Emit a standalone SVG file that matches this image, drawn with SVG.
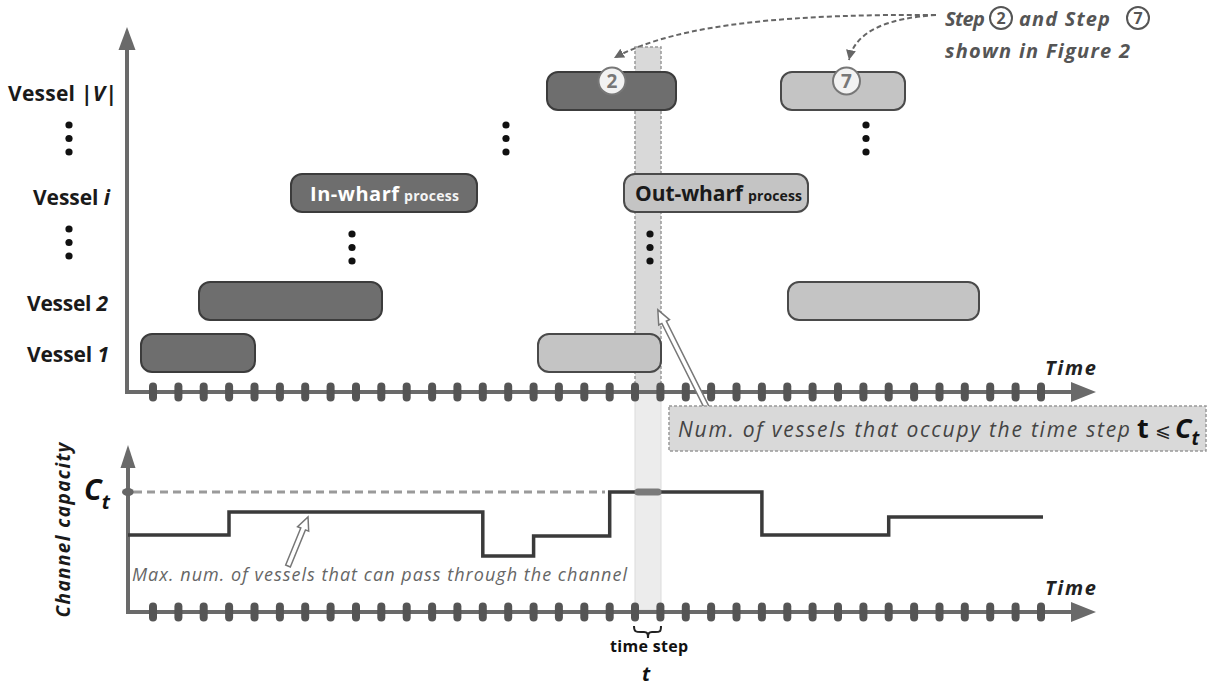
<svg xmlns="http://www.w3.org/2000/svg" xmlns:xlink="http://www.w3.org/1999/xlink" width="1208" height="686" viewBox="0 0 1208 686">
<defs>
<style>
text{font-family:'Open Sans',Lato,sans-serif}
.ax{stroke:#6a6a6a;stroke-width:4;fill:none}
.axh{fill:#6a6a6a}
.tick{fill:#555}
.dark{fill:#6e6e6e;stroke:#3c3c3c;stroke-width:2}
.light{fill:#c4c4c4;stroke:#4a4a4a;stroke-width:2}
.dot{fill:#111}
.lbl{font-weight:bold;font-size:21px;fill:#1a1a1a;text-anchor:end}
.ann{font-weight:bold;font-style:italic;font-size:20px;fill:#555}
.time{font-weight:bold;font-style:italic;font-size:20px;fill:#222}
.dash{fill:none;stroke:#666;stroke-width:2;stroke-dasharray:5,3}
.hollow{fill:#fff;stroke:#777;stroke-width:1.5}
.circ{fill:#f2f2f2;stroke:#777;stroke-width:2}
.cnum{font-weight:bold;font-size:19px;fill:#777;text-anchor:middle}
</style>
<rect id="tk" class="tick" x="-4" y="-9.5" width="8" height="19" rx="4"/>
<marker id="ah" markerWidth="12" markerHeight="12" refX="10" refY="5" orient="auto" markerUnits="userSpaceOnUse">
<path d="M0,0 L10,5 L0,10 Z" fill="#666"/>
</marker>
</defs>
<rect width="1208" height="686" fill="#fff"/>

<!-- time step column -->
<g id="column">
<rect x="635" y="392" width="26" height="218" fill="#ececec" stroke="#dcdcdc" stroke-width="1"/>
<rect x="635" y="47" width="26" height="345" fill="#d9d9d9" stroke="#999" stroke-width="1.5" stroke-dasharray="3,2"/>
</g>

<!-- axes top -->
<g id="axes-top">
<path class="ax" d="M127,48 V392 H1075"/>
<polygon class="axh" points="127,27 118.5,50 135.5,50"/>
<polygon class="axh" points="1096,392 1071,382 1071,402"/>
</g>
<g id="ticks-top">
<use xlink:href="#tk" x="153" y="392"/><use xlink:href="#tk" x="178.4" y="392"/><use xlink:href="#tk" x="203.7" y="392"/><use xlink:href="#tk" x="229.1" y="392"/><use xlink:href="#tk" x="254.5" y="392"/><use xlink:href="#tk" x="279.9" y="392"/><use xlink:href="#tk" x="305.2" y="392"/><use xlink:href="#tk" x="330.6" y="392"/><use xlink:href="#tk" x="356" y="392"/><use xlink:href="#tk" x="381.3" y="392"/><use xlink:href="#tk" x="406.7" y="392"/><use xlink:href="#tk" x="432.1" y="392"/><use xlink:href="#tk" x="457.4" y="392"/><use xlink:href="#tk" x="482.8" y="392"/><use xlink:href="#tk" x="508.2" y="392"/><use xlink:href="#tk" x="533.6" y="392"/><use xlink:href="#tk" x="558.9" y="392"/><use xlink:href="#tk" x="584.3" y="392"/><use xlink:href="#tk" x="609.7" y="392"/><use xlink:href="#tk" x="635" y="392"/><use xlink:href="#tk" x="660.4" y="392"/><use xlink:href="#tk" x="685.8" y="392"/><use xlink:href="#tk" x="711.1" y="392"/><use xlink:href="#tk" x="736.5" y="392"/><use xlink:href="#tk" x="761.9" y="392"/><use xlink:href="#tk" x="787.3" y="392"/><use xlink:href="#tk" x="812.6" y="392"/><use xlink:href="#tk" x="838" y="392"/><use xlink:href="#tk" x="863.4" y="392"/><use xlink:href="#tk" x="888.7" y="392"/><use xlink:href="#tk" x="914.1" y="392"/><use xlink:href="#tk" x="939.5" y="392"/><use xlink:href="#tk" x="964.8" y="392"/><use xlink:href="#tk" x="990.2" y="392"/><use xlink:href="#tk" x="1015.6" y="392"/><use xlink:href="#tk" x="1041" y="392"/>
</g>
<text class="time" x="1045" y="375" textLength="51">Time</text>

<!-- vessel labels -->
<g id="labels">
<text class="lbl" x="117" y="101" textLength="109">Vessel |<tspan font-style="italic">V</tspan>|</text>
<text class="lbl" x="110" y="205" textLength="77">Vessel <tspan font-style="italic">i</tspan></text>
<text class="lbl" x="108" y="311" textLength="81">Vessel <tspan font-style="italic">2</tspan></text>
<text class="lbl" x="109" y="362" textLength="82">Vessel <tspan font-style="italic">1</tspan></text>
</g>

<!-- dots -->
<g id="dots">
<circle class="dot" cx="69" cy="125" r="3.6"/><circle class="dot" cx="69" cy="138.5" r="3.6"/><circle class="dot" cx="69" cy="152" r="3.6"/>
<circle class="dot" cx="69" cy="229" r="3.6"/><circle class="dot" cx="69" cy="242.5" r="3.6"/><circle class="dot" cx="69" cy="256" r="3.6"/>
<circle class="dot" cx="506" cy="125" r="3.6"/><circle class="dot" cx="506" cy="138.5" r="3.6"/><circle class="dot" cx="506" cy="152" r="3.6"/>
<circle class="dot" cx="866" cy="125" r="3.6"/><circle class="dot" cx="866" cy="138.5" r="3.6"/><circle class="dot" cx="866" cy="152" r="3.6"/>
<circle class="dot" cx="352" cy="234" r="3.6"/><circle class="dot" cx="352" cy="247.5" r="3.6"/><circle class="dot" cx="352" cy="261" r="3.6"/>
<circle class="dot" cx="650" cy="234" r="3.6"/><circle class="dot" cx="650" cy="247.5" r="3.6"/><circle class="dot" cx="650" cy="261" r="3.6"/>
</g>

<!-- bars -->
<g id="v1-in"><rect class="dark" x="141" y="334" width="114" height="38" rx="11"/></g>
<g id="v1-out"><rect class="light" x="538" y="334" width="123" height="38" rx="11"/></g>
<g id="v2-in"><rect class="dark" x="199" y="282" width="183" height="38" rx="11"/></g>
<g id="v2-out"><rect class="light" x="788" y="282" width="191" height="38" rx="11"/></g>
<g id="vi-in">
<rect class="dark" x="291" y="174" width="186" height="38" rx="11"/>
<text x="310" y="201" textLength="89" font-weight="bold" font-size="20" fill="#fff">In-wharf</text>
<text x="404" y="201" textLength="55" font-weight="bold" font-size="14" fill="#f4f4f4">process</text>
</g>
<g id="vi-out">
<rect class="light" x="624" y="174" width="184" height="38" rx="11"/>
<text x="635" y="201" textLength="108" font-weight="bold" font-size="21" fill="#1a1a1a">Out-wharf</text>
<text x="748" y="201" textLength="54" font-weight="bold" font-size="14" fill="#1a1a1a">process</text>
</g>
<g id="vV-in">
<rect class="dark" x="547" y="72" width="129" height="38" rx="11"/>
<circle class="circ" cx="612" cy="81" r="13.5"/>
<text class="cnum" x="612" y="88">2</text>
</g>
<g id="vV-out">
<rect class="light" x="781" y="72" width="124" height="38" rx="11"/>
<circle class="circ" cx="846.5" cy="81" r="13.5"/>
<text class="cnum" x="846.5" y="88">7</text>
</g>

<!-- top-right annotation -->
<g id="annotation">
<text class="ann" x="945" y="26" textLength="40">Step</text>
<circle cx="1001" cy="18" r="11" fill="#fff" stroke="#555" stroke-width="2"/>
<text x="1001" y="24" text-anchor="middle" font-weight="bold" font-size="16" fill="#555">2</text>
<text class="ann" x="1019" y="26" textLength="91">and Step</text>
<circle cx="1138" cy="18" r="11" fill="#fff" stroke="#555" stroke-width="2"/>
<text x="1138" y="24" text-anchor="middle" font-weight="bold" font-size="16" fill="#555">7</text>
<text class="ann" x="945" y="58" textLength="185">shown in Figure 2</text>
</g>

<!-- connectors -->
<g id="connectors">
<path class="dash" d="M936,15 C800,14 680,22 614,58" marker-end="url(#ah)"/>
<path class="dash" d="M936,15 C890,18 855,30 849,60" marker-end="url(#ah)"/>
<path class="hollow" transform="translate(712,418) rotate(-116.6)" d="M0,-2.5 L107,-2.5 L107,-6 L121,0 L107,6 L107,2.5 L0,2.5 Z"/>
<path class="hollow" transform="translate(288,566) rotate(-67.8)" d="M0,-2.5 L40,-2.5 L40,-6 L53,0 L40,6 L40,2.5 L0,2.5 Z"/>
</g>

<!-- constraint box -->
<g id="constraint">
<rect x="669" y="406" width="537" height="45" fill="#d9d9d9" stroke="#999" stroke-width="1.5" stroke-dasharray="3,2"/>
<text x="678" y="437" textLength="452" font-style="italic" font-size="21" fill="#444">Num. of vessels that occupy the time step</text>
<text x="1137" y="438" font-weight="bold" font-size="27" fill="#111">t</text>
<text x="1155" y="437" font-family="'DejaVu Sans',sans-serif" font-size="19" fill="#222">⩽</text>
<text x="1175" y="438" font-weight="bold" font-style="italic" font-size="27" fill="#111">C<tspan font-size="19" dy="7">t</tspan></text>
</g>

<!-- bottom chart -->
<g id="axes-bottom">
<path class="ax" d="M128,466 V612 H1075"/>
<polygon class="axh" points="128,445 120.5,468 135.5,468"/>
<polygon class="axh" points="1096,612 1071,602 1071,622"/>
</g>
<g id="ticks-bottom">
<use xlink:href="#tk" x="153" y="612"/><use xlink:href="#tk" x="178.4" y="612"/><use xlink:href="#tk" x="203.7" y="612"/><use xlink:href="#tk" x="229.1" y="612"/><use xlink:href="#tk" x="254.5" y="612"/><use xlink:href="#tk" x="279.9" y="612"/><use xlink:href="#tk" x="305.2" y="612"/><use xlink:href="#tk" x="330.6" y="612"/><use xlink:href="#tk" x="356" y="612"/><use xlink:href="#tk" x="381.3" y="612"/><use xlink:href="#tk" x="406.7" y="612"/><use xlink:href="#tk" x="432.1" y="612"/><use xlink:href="#tk" x="457.4" y="612"/><use xlink:href="#tk" x="482.8" y="612"/><use xlink:href="#tk" x="508.2" y="612"/><use xlink:href="#tk" x="533.6" y="612"/><use xlink:href="#tk" x="558.9" y="612"/><use xlink:href="#tk" x="584.3" y="612"/><use xlink:href="#tk" x="609.7" y="612"/><use xlink:href="#tk" x="635" y="612"/><use xlink:href="#tk" x="660.4" y="612"/><use xlink:href="#tk" x="685.8" y="612"/><use xlink:href="#tk" x="711.1" y="612"/><use xlink:href="#tk" x="736.5" y="612"/><use xlink:href="#tk" x="761.9" y="612"/><use xlink:href="#tk" x="787.3" y="612"/><use xlink:href="#tk" x="812.6" y="612"/><use xlink:href="#tk" x="838" y="612"/><use xlink:href="#tk" x="863.4" y="612"/><use xlink:href="#tk" x="888.7" y="612"/><use xlink:href="#tk" x="914.1" y="612"/><use xlink:href="#tk" x="939.5" y="612"/><use xlink:href="#tk" x="964.8" y="612"/><use xlink:href="#tk" x="990.2" y="612"/><use xlink:href="#tk" x="1015.6" y="612"/><use xlink:href="#tk" x="1041" y="612"/>
</g>
<text class="time" x="1045" y="595" textLength="51">Time</text>

<g id="capacity">
<line x1="134" y1="492" x2="605" y2="492" stroke="#9a9a9a" stroke-width="3" stroke-dasharray="8,5"/>
<ellipse cx="128" cy="492" rx="6" ry="4" fill="#666"/>
<path d="M128,535 H229 V512 H482.8 V556 H533.6 V536 H609.7 V492 H761.9 V535 H888.7 V517 H1043" fill="none" stroke="#3a3a3a" stroke-width="3.5"/>
<line x1="638" y1="492" x2="658" y2="492" stroke="#7a7a7a" stroke-width="7" stroke-linecap="round"/>
<text x="84" y="500" font-weight="bold" font-style="italic" font-size="29" fill="#111">C<tspan font-size="20" dy="9">t</tspan></text>
<text transform="translate(70,530) rotate(-90)" text-anchor="middle" textLength="175" font-weight="bold" font-style="italic" font-size="19" fill="#1a1a1a">Channel capacity</text>
<text x="132" y="581" textLength="495" font-style="italic" font-size="18" fill="#666">Max. num. of vessels that can pass through the channel</text>
</g>

<g id="timestep">
<path d="M634,626 C634,632 636,632 641,632 L644,632 C647,632 648,633 648,638 C648,633 649,632 652,632 L655,632 C660,632 661,632 661,626" fill="none" stroke="#222" stroke-width="2"/>
<text x="649" y="652" text-anchor="middle" textLength="78" font-family="'Liberation Sans',Arial,sans-serif" font-weight="bold" font-size="16" fill="#111">time step</text>
<text x="646" y="681" text-anchor="middle" font-family="'Liberation Sans',Arial,sans-serif" font-weight="bold" font-style="italic" font-size="20" fill="#111">t</text>
</g>
</svg>
